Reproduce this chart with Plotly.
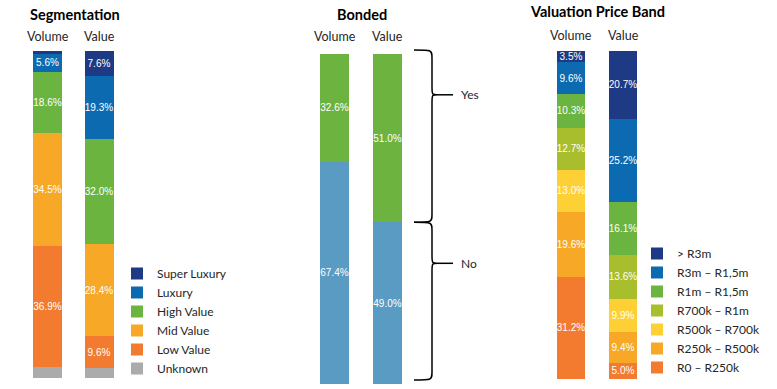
import plotly.graph_objects as go

W, H = 777, 389

# ---------------- data ----------------
columns = ["Volume", "Value"]

seg_names = ["Super Luxury", "Luxury", "High Value", "Mid Value", "Low Value", "Unknown"]
seg_volume = [0.8, 5.6, 18.6, 34.5, 36.9, 3.2]
seg_value = [7.6, 19.3, 32.0, 28.4, 9.6, 3.1]
seg_colors = ["#1F3A84", "#0C6AB1", "#6BB440", "#F6A826", "#F27B30", "#ABABAB"]

bond_names = ["Yes", "No"]
bond_volume = [32.6, 67.4]
bond_value = [51.0, 49.0]
bond_colors = ["#6CB33F", "#5A9BC3"]

band_names = ["> R3m", "R3m – R1,5m", "R1m – R1,5m", "R700k – R1m",
              "R500k – R700k", "R250k – R500k", "R0 – R250k"]
band_volume = [3.5, 9.6, 10.3, 12.7, 13.0, 19.6, 31.2]
band_value = [20.7, 25.2, 16.1, 13.6, 9.9, 9.4, 5.0]
band_colors = ["#1F3A84", "#0C6AB1", "#6BB440", "#A8BE2C", "#FDD135", "#F6A826", "#F27B30"]


def px_x(p):
    return p / W


def px_y(p):
    return 1 - p / H


def lab(v, name):
    if name == "Unknown" or v < 1:
        return ""
    return f"{v:.1f}%"


LABEL_FONT = dict(family="Liberation Sans, Arial, sans-serif", size=10, color="white")
TEXT_FONT = "Lato, Open Sans, sans-serif"

fig = go.Figure()

# panels: (names, vol, val, colors, xaxis, yaxis, legend, width)
panels = [
    (seg_names, seg_volume, seg_value, seg_colors, "x", "y", "legend", 0.563),
    (bond_names, bond_volume, bond_value, bond_colors, "x2", "y2", None, 0.547),
    (band_names, band_volume, band_value, band_colors, "x3", "y3", "legend2", 0.538),
]

for names, vol, val, cols, xa, ya, leg, bw in panels:
    # add from bottom to top so the first name sits on top of the stack
    for i in reversed(range(len(names))):
        kw = dict(showlegend=False)
        if leg:
            kw = dict(showlegend=True, legend=leg)
        fig.add_trace(go.Bar(
            x=columns, y=[vol[i], val[i]], name=names[i],
            marker=dict(color=cols[i], line=dict(width=0)),
            width=bw, xaxis=xa, yaxis=ya,
            text=[lab(vol[i], names[i]), lab(val[i], names[i])],
            textposition="inside", insidetextanchor="middle",
            textangle=0, constraintext="none",
            textfont=LABEL_FONT, hoverinfo="name+y",
            **kw))

seg_dom_x = [px_x(21.75), px_x(124.75)]
seg_dom_y = [px_y(378), px_y(51)]
bond_dom_x = [px_x(308), px_x(414)]
bond_dom_y = [px_y(384), px_y(54)]
band_dom_x = [px_x(545), px_x(649)]
band_dom_y = [px_y(379), px_y(51)]

ax_common = dict(showgrid=False, zeroline=False, showticklabels=False, showline=False,
                 fixedrange=True)

fig.update_layout(
    width=W, height=H,
    margin=dict(l=0, r=0, t=0, b=0),
    paper_bgcolor="white", plot_bgcolor="white",
    barmode="stack", barnorm="percent",
    xaxis=dict(domain=seg_dom_x, anchor="y", type="category", range=[-0.5, 1.5], **ax_common),
    yaxis=dict(domain=seg_dom_y, anchor="x", range=[0, 100], **ax_common),
    xaxis2=dict(domain=bond_dom_x, anchor="y2", type="category", range=[-0.5, 1.5], **ax_common),
    yaxis2=dict(domain=bond_dom_y, anchor="x2", range=[0, 100], **ax_common),
    xaxis3=dict(domain=band_dom_x, anchor="y3", type="category", range=[-0.5, 1.5], **ax_common),
    yaxis3=dict(domain=band_dom_y, anchor="x3", range=[0, 100], **ax_common),
    legend=dict(x=px_x(117), y=px_y(259), xanchor="left", yanchor="top",
                traceorder="reversed", bgcolor="rgba(0,0,0,0)",
                font=dict(family=TEXT_FONT, size=12, color="#262626"),
                itemclick=False, itemdoubleclick=False, tracegroupgap=0),
    legend2=dict(x=px_x(637), y=px_y(239), xanchor="left", yanchor="top",
                 traceorder="reversed", bgcolor="rgba(0,0,0,0)",
                 font=dict(family=TEXT_FONT, size=12, color="#262626"),
                 itemclick=False, itemdoubleclick=False, tracegroupgap=0),
    showlegend=True,
)

# titles
titles = [("Segmentation", 75, 14), ("Bonded", 362, 14), ("Valuation Price Band", 597, 12)]
for t, cx, cy in titles:
    fig.add_annotation(text=f"<b>{t}</b>", xref="paper", yref="paper",
                       x=px_x(cx), y=px_y(cy), xanchor="center", yanchor="middle",
                       showarrow=False, font=dict(family=TEXT_FONT, size=14.5, color="black"))

# column headers
for xa, hy in (("x", 37), ("x2", 37), ("x3", 35)):
    for c in columns:
        fig.add_annotation(text=c, xref=xa, yref="paper", x=c, y=px_y(hy),
                           xanchor="center", yanchor="middle", showarrow=False,
                           font=dict(family=TEXT_FONT, size=12.5, color="#262626"))

# braces for the Bonded panel (based on the Value column split)
top_px, bot_px = 54, 384


def bond_px(v):
    return top_px + (100 - v) / 100 * (bot_px - top_px)


def P(x, y):
    return f"{px_x(x):.5f},{px_y(y):.5f}"


split_px = bond_px(bond_value[1])
sections = [(bond_names[0], top_px - 4, split_px), (bond_names[1], split_px, bot_px - 4)]
x0, x1, x2, x3 = 414, 432, 438, 453
r = 8
for name, ya, yb in sections:
    tip = ya + 0.26 * (yb - ya)
    path = (f"M{P(x0, ya)} C{P(x1, ya)} {P(x1, ya)} {P(x1, ya + r)} "
            f"L{P(x1, tip - r)} C{P(x1, tip)} {P(x1, tip)} {P(x2, tip)} "
            f"C{P(x1, tip)} {P(x1, tip)} {P(x1, tip + r)} "
            f"L{P(x1, yb - r)} C{P(x1, yb)} {P(x1, yb)} {P(x0, yb)}")
    fig.add_shape(type="path", path=path, xref="paper", yref="paper",
                  line=dict(color="black", width=1.5))
    fig.add_shape(type="line", xref="paper", yref="paper",
                  x0=px_x(x2), x1=px_x(x3), y0=px_y(tip), y1=px_y(tip),
                  line=dict(color="black", width=1.5))
    fig.add_annotation(text=name, xref="paper", yref="paper", x=px_x(459), y=px_y(tip),
                       xanchor="left", yanchor="middle", showarrow=False,
                       font=dict(family=TEXT_FONT, size=12, color="#262626"))

fig.write_html("out.html", config={"displayModeBar": False},
               post_script="document.body.style.margin='0';")
